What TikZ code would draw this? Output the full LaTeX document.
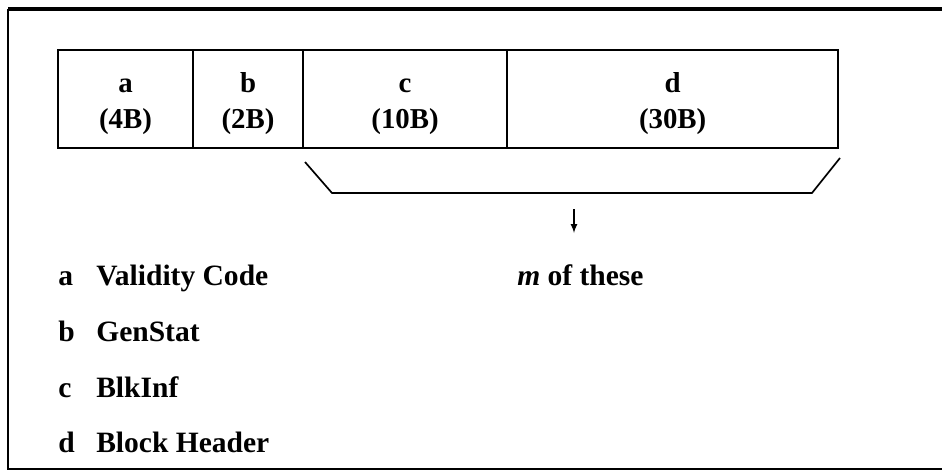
\documentclass[tikz,border=0pt]{standalone}
\usepackage{fontspec}
\setmainfont{Liberation Serif}
\usetikzlibrary{positioning}

\begin{document}
\begin{tikzpicture}[x=0.025cm, y=-0.025cm,
    field/.style={draw, line width=1.2pt, outer sep=0pt, inner sep=0pt,
        minimum height=2.45cm},
    fieldtext/.style={inner sep=0pt, align=center,
        font=\fontsize{20.5}{26}\selectfont\bfseries},
    legend/.style={anchor=base west, inner sep=0pt,
        font=\fontsize{21}{24}\selectfont\bfseries}]
    \useasboundingbox (0,0) rectangle (942,475);

    % Page frame
    \draw[line width=2.2pt] (942,9) -- (8,9);
    \draw[line width=1.4pt] (8,9) -- (8,469) -- (942,469);

    % Record layout
    \node[field, anchor=north west, minimum width=3.375cm] (cellA) at (58,50) {};
    \node[field, right=0pt of cellA, minimum width=2.75cm] (cellB) {};
    \node[field, right=0pt of cellB, minimum width=5.1cm] (cellC) {};
    \node[field, right=0pt of cellC, minimum width=8.275cm] (cellD) {};
    \node[fieldtext] (textA) at ([yshift=-0.1cm]cellA.center) {\strut a\\\strut (4B)};
    \node[fieldtext] (textB) at ([yshift=-0.1cm]cellB.center) {\strut b\\\strut (2B)};
    \node[fieldtext] (textC) at ([yshift=-0.1cm]cellC.center) {\strut c\\\strut (10B)};
    \node[fieldtext] (textD) at ([yshift=-0.1cm]cellD.center) {\strut d\\\strut (30B)};

    % Repeated part
    \draw[line width=1.2pt] (305,162) -- (332,193) -- (812,193) -- (840,158);
    \coordinate (arrTop) at (574,209);
    \coordinate (arrEnd) at (574,233);
    \draw[-latex, line width=1.2pt] (arrTop) -- (arrEnd);
    \node[legend] (count) at (517,285) {\textit{m} of these};

    % Key
    \node[legend] (keyA) at (58,285) {a};
    \node[legend] (nameA) at (96,285) {Validity Code};
    \node[legend] (keyB) at (58,341) {b};
    \node[legend] (nameB) at (96,341) {GenStat};
    \node[legend] (keyC) at (58,397) {c};
    \node[legend] (nameC) at (96,397) {BlkInf};
    \node[legend] (keyD) at (58,452) {d};
    \node[legend] (nameD) at (96,452) {Block Header};
\end{tikzpicture}
\end{document}
